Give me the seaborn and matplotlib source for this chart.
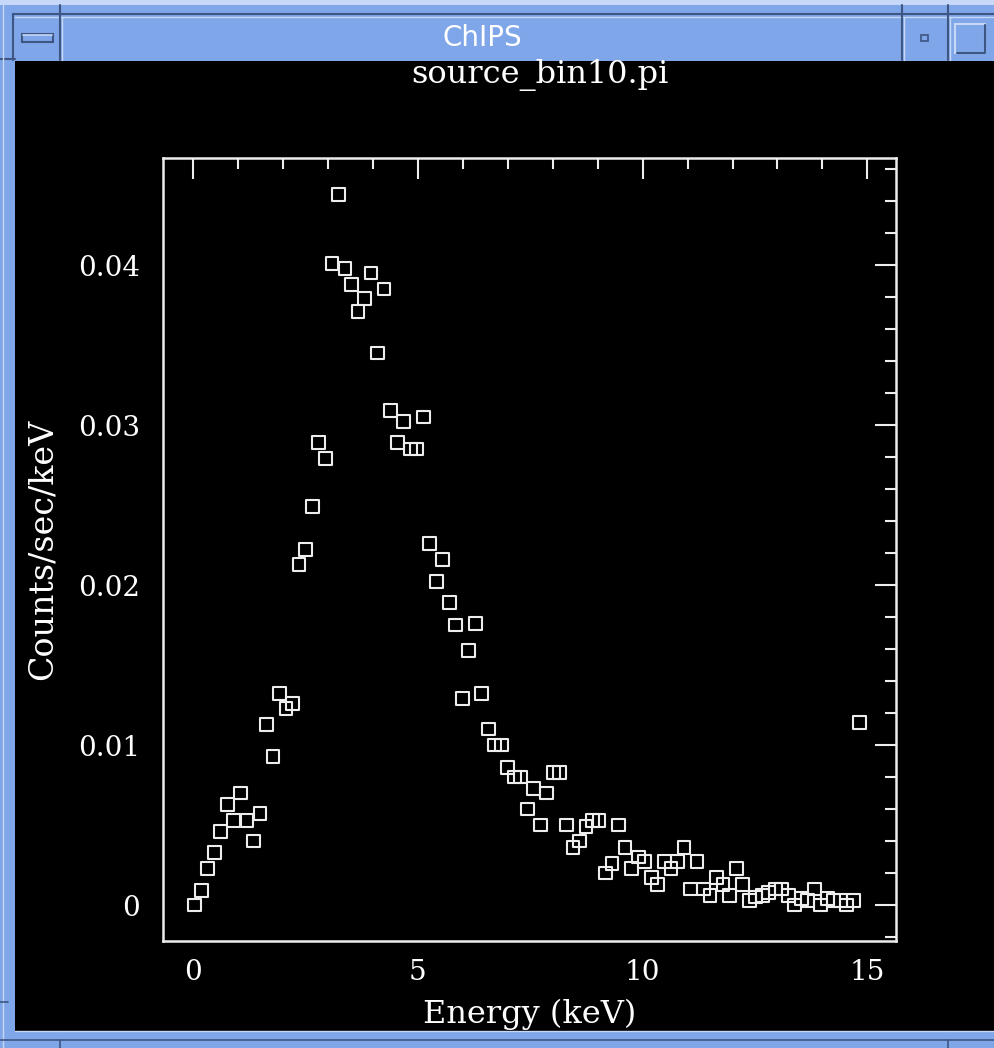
import matplotlib
matplotlib.use('Agg')
import matplotlib.pyplot as plt
from matplotlib.patches import Rectangle
from matplotlib.ticker import MultipleLocator
import seaborn as sns

# spectrum (source_bin10.pi)
energy = [0.04, 0.19, 0.33, 0.48, 0.62, 0.77, 0.91, 1.06, 1.20, 1.35,
          1.49, 1.64, 1.78, 1.93, 2.07, 2.22, 2.36, 2.51, 2.65, 2.80,
          2.94, 3.09, 3.23, 3.38, 3.52, 3.67, 3.81, 3.96, 4.10, 4.25,
          4.39, 4.54, 4.68, 4.83, 4.97, 5.12, 5.26, 5.41, 5.55, 5.70,
          5.84, 5.99, 6.13, 6.28, 6.42, 6.57, 6.71, 6.86, 7.00, 7.15,
          7.29, 7.44, 7.58, 7.73, 7.87, 8.02, 8.16, 8.31, 8.45, 8.60,
          8.74, 8.89, 9.03, 9.18, 9.32, 9.47, 9.61, 9.76, 9.90, 10.05,
          10.19, 10.34, 10.48, 10.63, 10.77, 10.92, 11.06, 11.21, 11.35, 11.50,
          11.64, 11.79, 11.93, 12.08, 12.22, 12.37, 12.51, 12.66, 12.80, 12.95,
          13.09, 13.24, 13.38, 13.53, 13.67, 13.82, 13.96, 14.11, 14.25, 14.40,
          14.54, 14.69, 14.83]
rate = [0.0000, 0.0009, 0.0023, 0.0033, 0.0046, 0.0063, 0.0053, 0.0070, 0.0053, 0.0040,
        0.0057, 0.0113, 0.0093, 0.0132, 0.0123, 0.0126, 0.0213, 0.0222, 0.0249, 0.0289,
        0.0279, 0.0401, 0.0444, 0.0398, 0.0388, 0.0371, 0.0379, 0.0395, 0.0345, 0.0385,
        0.0309, 0.0289, 0.0302, 0.0285, 0.0285, 0.0305, 0.0226, 0.0202, 0.0216, 0.0189,
        0.0175, 0.0129, 0.0159, 0.0176, 0.0132, 0.0110, 0.0100, 0.0100, 0.0086, 0.0080,
        0.0080, 0.0060, 0.0073, 0.0050, 0.0070, 0.0083, 0.0083, 0.0050, 0.0036, 0.0040,
        0.0049, 0.0053, 0.0053, 0.0020, 0.0026, 0.0050, 0.0036, 0.0023, 0.0030, 0.0027,
        0.0017, 0.0013, 0.0027, 0.0023, 0.0027, 0.0036, 0.0010, 0.0027, 0.0010, 0.0006,
        0.0017, 0.0013, 0.0006, 0.0023, 0.0013, 0.0003, 0.0005, 0.0006, 0.0008, 0.0010,
        0.0010, 0.0006, 0.0000, 0.0004, 0.0003, 0.0010, 0.0000, 0.0004, 0.0003, 0.0003,
        0.0000, 0.0003, 0.0114]
x_ticks = [0, 5, 10, 15]
y_ticks = [0, 0.01, 0.02, 0.03, 0.04]
y_ticklabels = ['0', '0.01', '0.02', '0.03', '0.04']

sns.set_style('dark')
plt.rcParams['font.family'] = ['DejaVu Serif']

W, H = 994, 1048
blue = '#7fa6e8'
dark = '#3e5682'
light = '#c6d7f7'
fg = '#ededed'

fig = plt.figure(figsize=(W / 100, H / 100), dpi=100)
fig.patch.set_facecolor(blue)

# window frame drawn in pixel coordinates
bg = fig.add_axes([0, 0, 1, 1], zorder=0)
bg.set_xlim(0, W)
bg.set_ylim(H, 0)
bg.axis('off')
bg.add_patch(Rectangle((0, 0), W, 5, color=light, lw=0))
bg.add_patch(Rectangle((15, 61), W - 15, 970, color='black', lw=0))
bg.plot([13, W], [14, 14], color=dark, lw=1.5)
bg.plot([15, W], [17, 17], color=light, lw=1)
bg.plot([13, 13], [14, 60], color=dark, lw=1.5)
bg.plot([0, 15], [59, 59], color=dark, lw=1.5)
bg.plot([3, 3], [5, 1048], color=light, lw=1)
for xs in [60, 902, 948]:
    bg.plot([xs, xs], [5, 60], color=dark, lw=1.5)
    bg.plot([xs + 2, xs + 2], [17, 60], color=light, lw=1)
# bottom edge of the window
bg.plot([15, W], [1031, 1031], color=light, lw=1)
bg.plot([0, W], [1040, 1040], color=dark, lw=1.2)
for xs in [60, 948]:
    bg.plot([xs, xs], [1040, H], color=dark, lw=1.2)
bg.plot([0, 8], [1002, 1002], color=dark, lw=1.2)
# title bar buttons
bg.add_patch(Rectangle((22, 34), 31, 8, facecolor=blue, edgecolor=dark, lw=1.5))
bg.plot([23, 52], [35, 35], color=light, lw=1.2)
bg.add_patch(Rectangle((921, 35), 7, 6, facecolor=blue, edgecolor=dark, lw=1.2))
bg.add_patch(Rectangle((955, 24), 30, 29, facecolor=blue, edgecolor=light, lw=1.5))
bg.plot([957, 985, 985], [53, 53, 25], color=dark, lw=1.5)
bg.text(482, 38, 'ChIPS', color='white', fontsize=20, family='DejaVu Sans',
        ha='center', va='center')

# plot area
ax = fig.add_axes([162.5 / W, 1 - 941 / H, 734 / W, 783 / H], zorder=1)
ax.set_facecolor('black')
sns.scatterplot(x=energy, y=rate, marker='s', s=85, facecolor='none',
                edgecolor=fg, linewidth=1.5, ax=ax)
ax.set_xlim(-0.678, 15.647)
ax.set_ylim(-0.00225, 0.04669)
ax.set_xticks(x_ticks)
ax.set_xticklabels([str(t) for t in x_ticks])
ax.set_yticks(y_ticks)
ax.set_yticklabels(y_ticklabels)
ax.xaxis.set_minor_locator(MultipleLocator(1))
ax.yaxis.set_minor_locator(MultipleLocator(0.002))
ax.tick_params(which='both', direction='in', top=True, right=True,
               color=fg, labelcolor='white', width=1.5)
ax.tick_params(which='major', length=15, labelsize=20)
ax.tick_params(which='minor', length=8)
ax.tick_params(axis='x', which='major', pad=13)
ax.tick_params(axis='y', which='major', pad=16)
for side in ax.spines.values():
    side.set_color(fg)
    side.set_linewidth(1.8)
    side.set_visible(True)
ax.grid(False)
ax.set_xlabel('Energy (keV)', color='white', fontsize=23, labelpad=9)
ax.set_ylabel('Counts/sec/keV', color='white', fontsize=24, labelpad=14)
fig.text(540 / W, 1 - 75 / H, 'source_bin10.pi', color='white', fontsize=23,
         ha='center', va='center')

fig.savefig('out.png', dpi=100, facecolor=fig.get_facecolor())
